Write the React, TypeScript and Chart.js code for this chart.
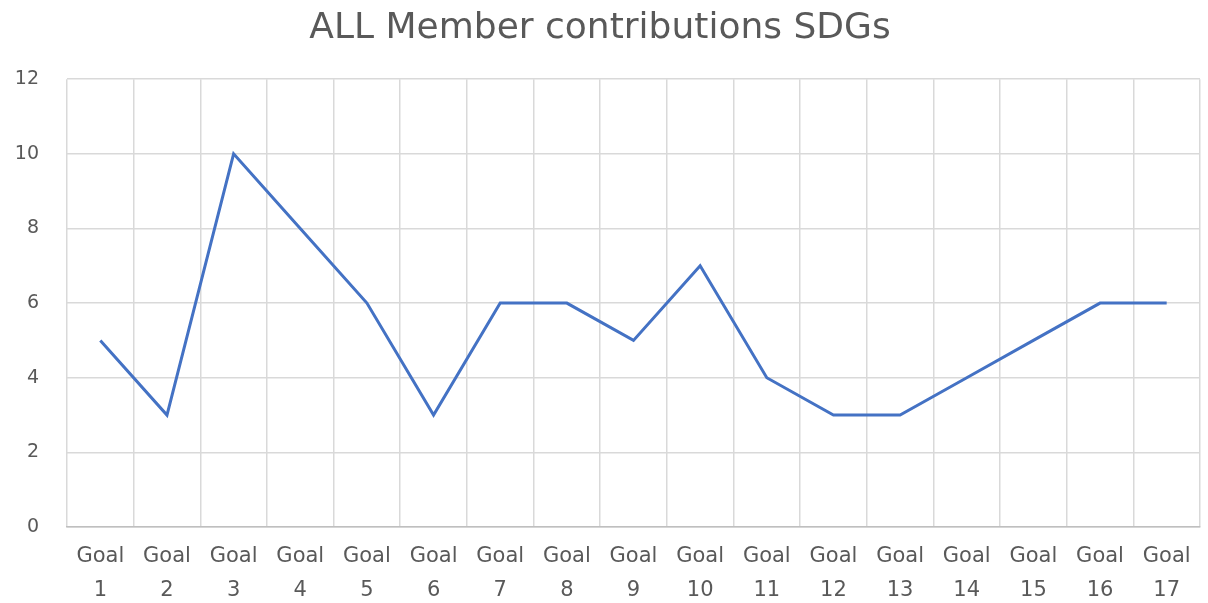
import React, { useEffect, useRef } from "react";
import { Chart, registerables } from "chart.js";

Chart.register(...registerables);

const goalWords: string[] = Array(17).fill("Goal");
const goalNumbers: string[] = ["1","2","3","4","5","6","7","8","9","10","11","12","13","14","15","16","17"];
const contributions: number[] = [5, 3, 10, 8, 6, 3, 6, 6, 5, 7, 4, 3, 3, 4, 5, 6, 6];
const titleText = "ALL Member contributions SDGs";

export default function App() {
  const ref = useRef<HTMLCanvasElement | null>(null);
  useEffect(() => {
    document.body.style.margin = "0";
    const labels = goalWords.map((w, i) => [w, goalNumbers[i]]);
    const chart = new Chart(ref.current as HTMLCanvasElement, {
      type: "line",
      data: {
        labels,
        datasets: [
          {
            label: "Contributions",
            data: contributions,
            borderColor: "#4472C4",
            borderWidth: 3,
            pointRadius: 0,
            tension: 0,
            fill: false,
          },
        ],
      },
      options: {
        animation: false,
        responsive: false,
        maintainAspectRatio: false,
        layout: { padding: { left: 0, right: 8, top: 0, bottom: 0 } },
        plugins: {
          legend: { display: false },
          tooltip: { enabled: false },
          title: {
            display: true,
            text: titleText,
            color: "#595959",
            font: { family: "DejaVu Sans", size: 36, weight: "normal" },
            padding: { top: 7, bottom: 29 },
          },
        },
        scales: {
          x: {
            offset: true,
            grid: { offset: true, color: "#d9d9d9", lineWidth: 1.5, drawTicks: false },
            border: { color: "#bfbfbf", width: 1.5 },
            ticks: {
              color: "#595959",
              font: { family: "DejaVu Sans", size: 21, lineHeight: 1.6 },
              maxRotation: 0,
              minRotation: 0,
              autoSkip: false,
              padding: 13,
            },
            afterFit: (s: any) => { s.height = 76; },
          },
          y: {
            min: 0,
            max: 12,
            grid: { color: "#d9d9d9", lineWidth: 1.5, drawTicks: false },
            border: { display: false },
            ticks: {
              stepSize: 2,
              color: "#595959",
              font: { family: "DejaVu Sans", size: 19 },
              padding: 28,
            },
            afterFit: (s: any) => { s.width = 67; },
          },
        },
      },
    });
    return () => chart.destroy();
  }, []);
  return <canvas ref={ref} width={1208} height={603} style={{ display: "block" }} />;
}
